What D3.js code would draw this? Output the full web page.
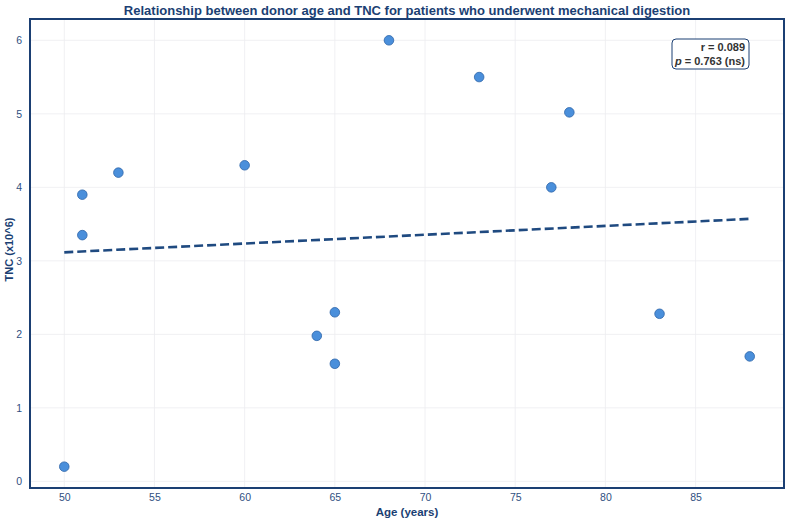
<!DOCTYPE html>
<html>
<head>
<meta charset="utf-8">
<script src="https://cdn.jsdelivr.net/npm/d3@7"></script>
<style>
  body { margin: 0; background: #fff; }
  svg { display: block; font-family: "Liberation Sans", Arial, sans-serif; }
</style>
</head>
<body>
<div id="chart"></div>
<script>
// donor age (years) and TNC (x10^6)
const ages = [50, 51, 51, 53, 60, 64, 65, 65, 68, 73, 77, 78, 83, 88]
const tnc = [0.2, 3.9, 3.35, 4.2, 4.3, 1.98, 2.3, 1.6, 6.0, 5.5, 4.0, 5.02, 2.28, 1.7]
const xTicks = [50, 55, 60, 65, 70, 75, 80, 85]
const yTicks = [0, 1, 2, 3, 4, 5, 6]
const statLines = ["r = 0.089", "= 0.763 (ns)"]

const data = ages.map((a, i) => ({ age: a, tnc: tnc[i] }))

const W = 789, H = 522
const margin = { top: 19, right: 5, bottom: 34, left: 30 }
const width = W - margin.left - margin.right,
    height = H - margin.top - margin.bottom

const navy = "#1b3f73"

const svg = d3.select("#chart").append("svg")
    .attr("width", W).attr("height", H)

const g = svg.append("g")
    .attr("transform", "translate(" + margin.left + "," + margin.top + ")")

// 5% padding like matplotlib
const xr = d3.extent(ages), yr = d3.extent(tnc)
const xp = (xr[1] - xr[0]) * 0.05, yp = (yr[1] - yr[0]) * 0.05
const x = d3.scaleLinear().domain([xr[0] - xp, xr[1] + xp]).range([0, width])
const y = d3.scaleLinear().domain([yr[0] - yp, yr[1] + yp]).range([height, 0])

// grid
g.append("g")
    .selectAll("line").data(xTicks).enter().append("line")
    .attr("x1", d => x(d)).attr("x2", d => x(d))
    .attr("y1", 0).attr("y2", height)
    .attr("stroke", "#ececf0").attr("stroke-width", 0.8)
g.append("g")
    .selectAll("line").data(yTicks).enter().append("line")
    .attr("y1", d => y(d)).attr("y2", d => y(d))
    .attr("x1", 0).attr("x2", width)
    .attr("stroke", "#ececf0").attr("stroke-width", 0.8)

// axes (labels only)
const xAxis = g.append("g")
    .attr("transform", "translate(0," + height + ")")
    .call(d3.axisBottom(x).tickValues(xTicks).tickSize(0).tickPadding(6).tickFormat(d3.format("d")))
const yAxis = g.append("g")
    .call(d3.axisLeft(y).tickValues(yTicks).tickSize(0).tickPadding(8).tickFormat(d3.format("d")))
;[xAxis, yAxis].forEach(a => {
    a.select(".domain").remove()
    a.selectAll("text").attr("fill", "#2f4f7f").attr("font-size", 10.5)
        .style("font-family", "Liberation Sans, Arial, sans-serif")
})

// regression line (least squares)
const mx = d3.mean(ages), my = d3.mean(tnc)
const sxy = d3.sum(data, d => (d.age - mx) * (d.tnc - my))
const sxx = d3.sum(data, d => (d.age - mx) ** 2)
const slope = sxy / sxx, icpt = my - slope * mx
g.append("line")
    .attr("x1", x(xr[0])).attr("y1", y(icpt + slope * xr[0]))
    .attr("x2", x(xr[1])).attr("y2", y(icpt + slope * xr[1]))
    .attr("stroke", "#1f4a80").attr("stroke-width", 2.6)
    .attr("stroke-dasharray", "9,4")

// points
g.append("g")
    .selectAll("circle").data(data).enter().append("circle")
    .attr("cx", d => x(d.age)).attr("cy", d => y(d.tnc))
    .attr("r", 4.8)
    .attr("fill", "#4a8fdb")
    .attr("stroke", "#2d65a8").attr("stroke-width", 0.8)

// frame
g.append("rect")
    .attr("width", width).attr("height", height)
    .attr("fill", "none").attr("stroke", navy).attr("stroke-width", 2)

// stats box
const bx = 672 - margin.left, by = 39 - margin.top
g.append("rect")
    .attr("x", bx).attr("y", by).attr("width", 77).attr("height", 30)
    .attr("rx", 4).attr("fill", "#fff")
    .attr("stroke", navy).attr("stroke-width", 1)
g.append("text")
    .attr("x", bx + 73).attr("y", by + 12)
    .attr("text-anchor", "end").attr("font-size", 11).attr("font-weight", "bold")
    .attr("fill", "#333").text(statLines[0])
const pt = g.append("text")
    .attr("x", bx + 73).attr("y", by + 26)
    .attr("text-anchor", "end").attr("font-size", 11).attr("font-weight", "bold")
    .attr("fill", "#333")
pt.append("tspan").attr("font-style", "italic").text("p")
pt.append("tspan").text(" " + statLines[1])

// title and axis labels
svg.append("text")
    .attr("x", margin.left + width / 2).attr("y", 15)
    .attr("text-anchor", "middle").attr("font-size", 13).attr("font-weight", "bold")
    .attr("fill", navy)
    .text("Relationship between donor age and TNC for patients who underwent mechanical digestion")
svg.append("text")
    .attr("x", margin.left + width / 2).attr("y", 516)
    .attr("text-anchor", "middle").attr("font-size", 11.5).attr("font-weight", "bold")
    .attr("fill", navy).text("Age (years)")
svg.append("text")
    .attr("transform", "translate(13," + (margin.top + height / 2 - 4) + ") rotate(-90)")
    .attr("text-anchor", "middle").attr("font-size", 11).attr("font-weight", "bold")
    .attr("fill", navy).text("TNC (x10^6)")
</script>
</body>
</html>
